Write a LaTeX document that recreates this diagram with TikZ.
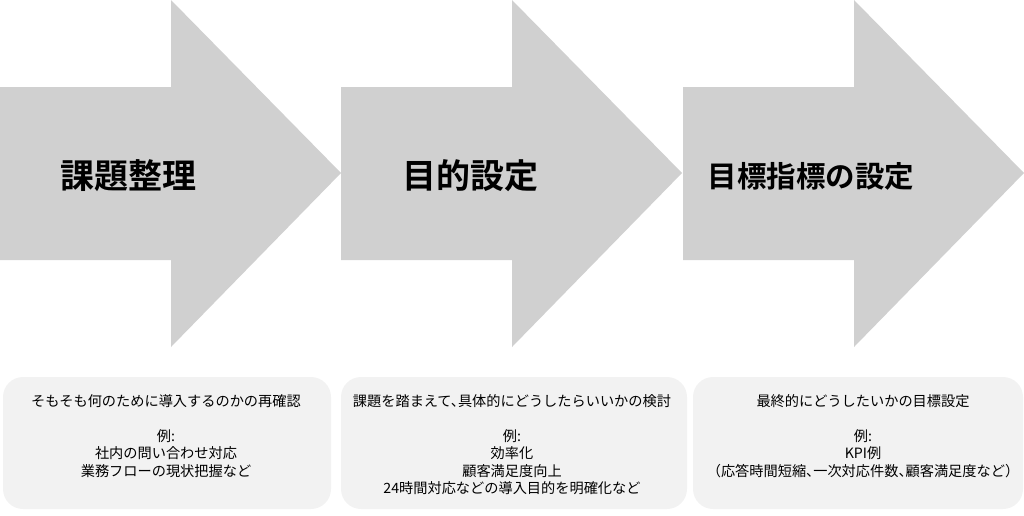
\documentclass[tikz,border=0pt]{standalone}
\usepackage{fontspec}
\newfontfamily\jp[RawFeature=+halt]{Noto Sans CJK JP}
\newfontfamily\jpb{Noto Sans CJK JP Bold}
\definecolor{arrowgrey}{HTML}{D0D0D0}
\definecolor{boxgrey}{HTML}{F2F2F2}
\tikzset{
  bigarrow/.style={fill=arrowgrey, draw=none},
  title/.style={font=\jpb\fontsize{34}{38}\selectfont, text=black, inner sep=0pt},
  infobox/.style={fill=boxgrey, draw=none, rounded corners=20pt},
  infotext/.style={font=\jp\fontsize{14.2}{17.5}\selectfont, align=center, anchor=north, inner sep=0pt, text=black}
}
\begin{document}
\begin{tikzpicture}[x=1pt,y=-1pt]
\useasboundingbox (0,0) rectangle (1024,515);
% arrows
\foreach \i/\x in {1/0,2/341,3/683}{
  \fill[bigarrow] (\x,87) -- (\x+171,87) -- (\x+171,0) -- (\x+341,173) -- (\x+171,347) -- (\x+171,260) -- (\x,260) -- cycle;
}
\node[title] (t1) at (128,176) {課題整理};
\node[title] (t2) at (470,176) {目的設定};
\node[title, font=\jpb\fontsize{29.5}{34}\selectfont] (t3) at (811,176.5) {目標指標の設定};
% boxes
\fill[infobox] (3,377) rectangle (331,509);
\fill[infobox] (341,377) rectangle (687,509);
\fill[infobox] (693,377) rectangle (1023,509);
\node[infotext] (b1) at (166,394) {そもそも何のために導入するのかの再確認\\[17.5pt]例:\\社内の問い合わせ対応\\業務フローの現状把握など};
\node[infotext] (b2) at (512,394) {課題を踏まえて、具体的にどうしたらいいかの検討\\[17.5pt]例:\\効率化\\顧客満足度向上\\24時間対応などの導入目的を明確化など};
\node[infotext] (b3) at (863,394) {最終的にどうしたいかの目標設定\\[17.5pt]例:\\KPI例\\（応答時間短縮、一次対応件数、顧客満足度など）};
\end{tikzpicture}
\end{document}
